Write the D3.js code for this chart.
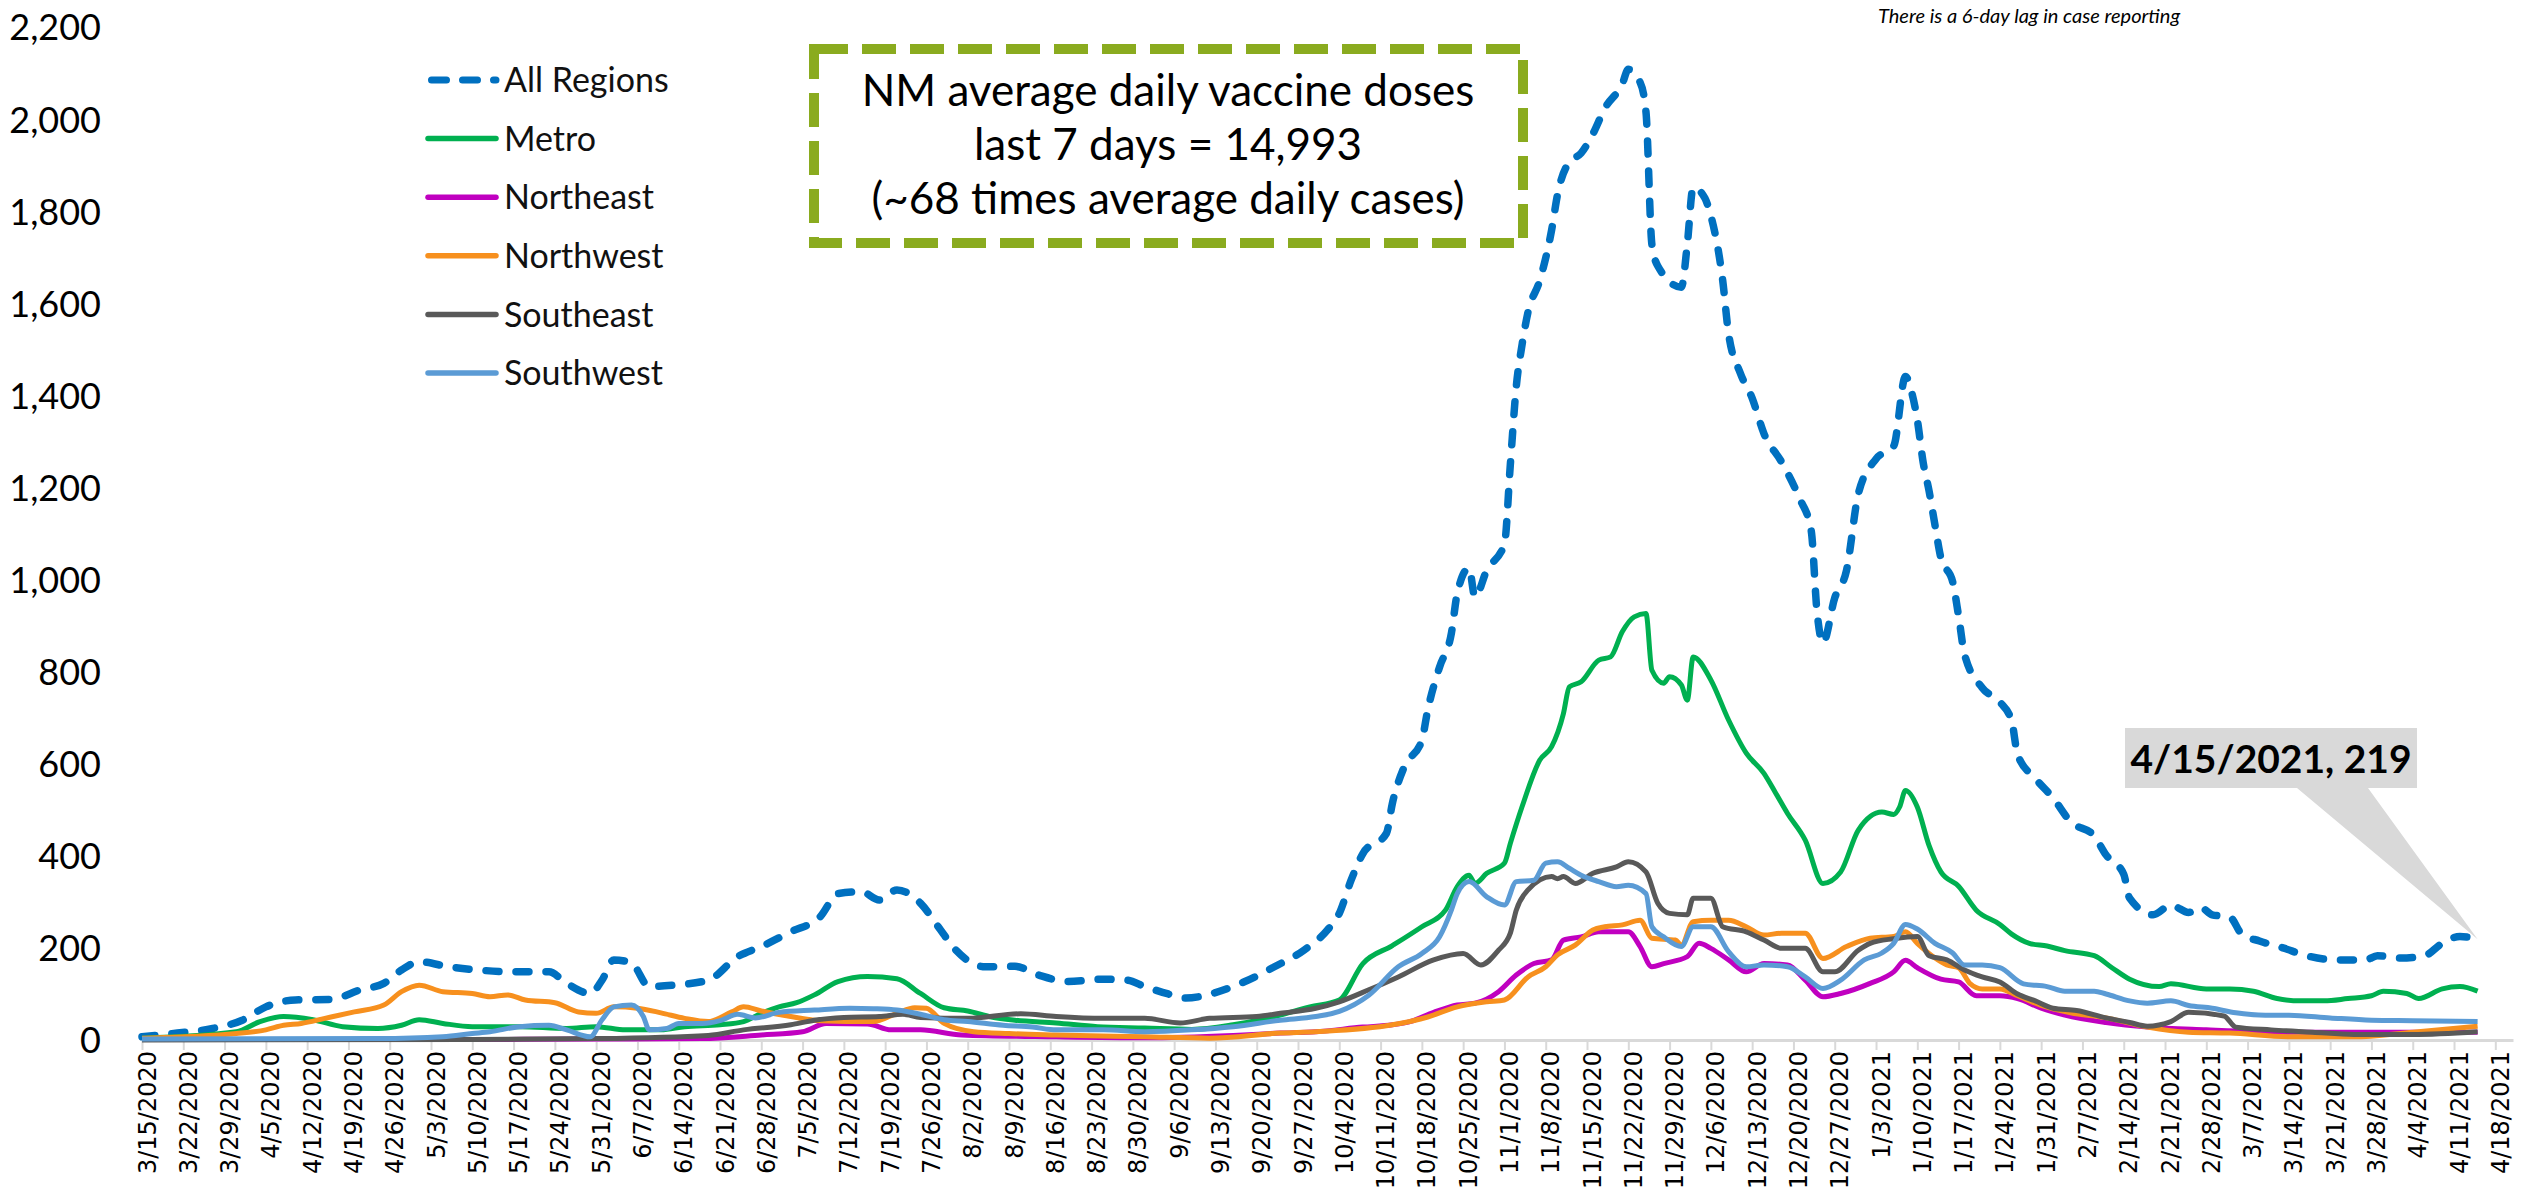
<!DOCTYPE html>
<html>
<head>
<meta charset="utf-8">
<script src="https://cdn.jsdelivr.net/npm/d3@7"></script>
<style>
  body { margin: 0; background: #fff; }
  svg { display: block; background: #fff; }
</style>
</head>
<body>
<div id="chart"></div>
<script>
// values (7-day average daily cases by region)
var seriesNames = ["All Regions", "Metro", "Northeast", "Northwest", "Southeast", "Southwest"];

var allRegions = [["3/15/2020",7],["3/21/2020",15],["3/27/2020",25],["4/1/2020",43],["4/5/2020",72],["4/10/2020",87],["4/16/2020",88],["4/21/2020",109],["4/25/2020",123],["4/28/2020",152],["5/1/2020",170],["5/6/2020",159],["5/11/2020",152],["5/17/2020",148],["5/23/2020",148],["5/26/2020",123],["5/30/2020",101],["6/1/2020",130],["6/3/2020",174],["6/6/2020",167],["6/9/2020",116],["6/13/2020",119],["6/19/2020",130],["6/24/2020",181],["6/28/2020",203],["7/3/2020",235],["7/8/2020",268],["7/11/2020",318],["7/15/2020",322],["7/18/2020",304],["7/21/2020",326],["7/25/2020",297],["7/28/2020",246],["7/31/2020",195],["8/5/2020",159],["8/10/2020",160],["8/14/2020",141],["8/19/2020",127],["8/25/2020",132],["8/29/2020",130],["9/1/2020",116],["9/5/2020",100],["9/8/2020",91],["9/13/2020",103],["9/18/2020",127],["9/23/2020",159],["9/28/2020",195],["10/2/2020",239],["10/4/2020",275],["10/6/2020",347],["10/8/2020",405],["10/12/2020",449],["10/13/2020",514],["10/15/2020",593],["10/18/2020",651],["10/19/2020",717],["10/21/2020",810],["10/23/2020",883],["10/24/2020",970],["10/26/2020",1025],["10/27/2020",962],["10/29/2020",1020],["11/1/2020",1077],["11/2/2020",1250],["11/3/2020",1418],["11/4/2020",1511],["11/5/2020",1581],["11/7/2020",1650],["11/9/2020",1759],["11/10/2020",1836],["11/12/2020",1907],["11/14/2020",1926],["11/16/2020",1968],["11/18/2020",2023],["11/21/2020",2077],["11/22/2020",2108],["11/24/2020",2080],["11/25/2020",2015],["11/26/2020",1728],["11/27/2020",1681],["12/1/2020",1635],["12/2/2020",1728],["12/3/2020",1852],["12/5/2020",1828],["12/6/2020",1790],["12/8/2020",1650],["12/9/2020",1534],["12/11/2020",1448],["12/13/2020",1394],["12/15/2020",1317],["12/18/2020",1255],["12/21/2020",1177],["12/23/2020",1107],["12/24/2020",930],["12/25/2020",862],["12/27/2020",960],["12/29/2020",1020],["12/31/2020",1186],["1/3/2021",1262],["1/6/2021",1290],["1/8/2021",1441],["1/9/2021",1409],["1/10/2021",1347],["1/11/2021",1254],["1/12/2021",1192],["1/13/2021",1118],["1/14/2021",1047],["1/16/2021",995],["1/17/2021",921],["1/18/2021",838],["1/21/2021",765],["1/24/2021",734],["1/26/2021",693],["1/27/2021",620],["1/30/2021",568],["2/2/2021",526],["2/5/2021",474],["2/9/2021",443],["2/11/2021",402],["2/14/2021",360],["2/15/2021",308],["2/19/2021",272],["2/22/2021",293],["2/25/2021",277],["2/27/2021",288],["3/1/2021",272],["3/4/2021",267],["3/6/2021",230],["3/9/2021",215],["3/13/2021",200],["3/17/2021",183],["3/22/2021",174],["3/27/2021",174],["3/29/2021",183],["4/2/2021",178],["4/6/2021",183],["4/9/2021",210],["4/12/2021",225],["4/15/2021",219]];

var metro = [["3/15/2020",4],["3/31/2020",18],["4/4/2020",40],["4/8/2020",51],["4/13/2020",44],["4/18/2020",29],["4/24/2020",25],["4/28/2020",32],["5/1/2020",44],["5/5/2020",36],["5/10/2020",29],["5/18/2020",29],["5/26/2020",25],["5/31/2020",29],["6/5/2020",22],["6/11/2020",22],["6/15/2020",29],["6/21/2020",33],["6/25/2020",40],["6/28/2020",58],["7/1/2020",72],["7/4/2020",81],["7/7/2020",98],["7/11/2020",127],["7/16/2020",138],["7/21/2020",133],["7/25/2020",101],["7/29/2020",70],["8/2/2020",63],["8/6/2020",50],["8/10/2020",43],["8/17/2020",37],["8/24/2020",29],["9/1/2020",26],["9/9/2020",23],["9/16/2020",33],["9/23/2020",51],["9/29/2020",72],["10/4/2020",87],["10/8/2020",166],["10/13/2020",205],["10/18/2020",246],["10/22/2020",282],["10/24/2020",333],["10/26/2020",358],["10/27/2020",340],["10/29/2020",362],["11/1/2020",384],["11/2/2020",427],["11/4/2020",507],["11/7/2020",608],["11/9/2020",637],["11/11/2020",709],["11/12/2020",767],["11/14/2020",778],["11/17/2020",825],["11/19/2020",832],["11/21/2020",887],["11/23/2020",919],["11/25/2020",926],["11/26/2020",803],["11/28/2020",775],["11/29/2020",789],["12/1/2020",771],["12/2/2020",738],["12/3/2020",832],["12/6/2020",782],["12/9/2020",695],["12/12/2020",623],["12/15/2020",579],["12/17/2020",536],["12/19/2020",492],["12/22/2020",434],["12/25/2020",340],["12/28/2020",365],["12/31/2020",456],["1/4/2021",495],["1/6/2021",490],["1/7/2021",506],["1/8/2021",542],["1/10/2021",506],["1/12/2021",422],["1/14/2021",365],["1/17/2021",334],["1/20/2021",282],["1/24/2021",251],["1/26/2021",230],["1/29/2021",210],["2/1/2021",204],["2/4/2021",194],["2/9/2021",183],["2/12/2021",157],["2/15/2021",132],["2/20/2021",116],["2/22/2021",122],["2/28/2021",111],["3/4/2021",111],["3/8/2021",106],["3/12/2021",90],["3/16/2021",85],["3/20/2021",85],["3/24/2021",90],["3/28/2021",96],["3/30/2021",106],["4/3/2021",101],["4/5/2021",90],["4/9/2021",111],["4/12/2021",116],["4/15/2021",106]];

var northeast = [["3/15/2020",1],["4/24/2020",1],["6/3/2020",2],["6/18/2020",3],["6/28/2020",11],["7/5/2020",18],["7/9/2020",36],["7/16/2020",35],["7/20/2020",22],["7/25/2020",22],["8/1/2020",11],["8/17/2020",7],["9/1/2020",5],["9/16/2020",10],["9/24/2020",15],["9/30/2020",18],["10/8/2020",28],["10/13/2020",33],["10/16/2020",40],["10/20/2020",60],["10/24/2020",76],["10/27/2020",80],["10/31/2020",105],["11/3/2020",141],["11/6/2020",166],["11/9/2020",174],["11/11/2020",217],["11/14/2020",224],["11/17/2020",235],["11/22/2020",235],["11/24/2020",203],["11/26/2020",159],["11/28/2020",166],["12/2/2020",181],["12/4/2020",210],["12/6/2020",199],["12/9/2020",174],["12/12/2020",148],["12/15/2020",166],["12/19/2020",163],["12/22/2020",130],["12/25/2020",94],["12/28/2020",101],["1/2/2021",123],["1/6/2021",148],["1/8/2021",173],["1/10/2021",157],["1/14/2021",132],["1/17/2021",126],["1/20/2021",96],["1/24/2021",96],["1/27/2021",90],["1/31/2021",69],["2/4/2021",54],["2/11/2021",38],["2/18/2021",28],["2/28/2021",22],["3/14/2021",17],["3/28/2021",17],["4/15/2021",17]];

var northwest = [["3/15/2020",4],["3/31/2020",14],["4/5/2020",22],["4/8/2020",32],["4/11/2020",36],["4/15/2020",47],["4/20/2020",61],["4/25/2020",76],["4/28/2020",105],["5/1/2020",119],["5/5/2020",105],["5/10/2020",101],["5/13/2020",94],["5/16/2020",98],["5/19/2020",87],["5/24/2020",81],["5/28/2020",61],["5/31/2020",58],["6/3/2020",72],["6/7/2020",69],["6/11/2020",59],["6/15/2020",47],["6/19/2020",40],["6/23/2020",61],["6/25/2020",72],["6/28/2020",63],["7/3/2020",51],["7/8/2020",42],["7/17/2020",40],["7/21/2020",58],["7/24/2020",70],["7/26/2020",69],["7/29/2020",36],["8/3/2020",18],["8/9/2020",14],["8/17/2020",11],["9/1/2020",7],["9/12/2020",4],["9/24/2020",15],["9/30/2020",18],["10/13/2020",33],["10/19/2020",50],["10/24/2020",72],["10/29/2020",83],["11/1/2020",87],["11/5/2020",137],["11/8/2020",159],["11/10/2020",185],["11/13/2020",206],["11/16/2020",239],["11/18/2020",246],["11/21/2020",250],["11/24/2020",260],["11/26/2020",221],["11/30/2020",217],["12/1/2020",206],["12/3/2020",257],["12/6/2020",260],["12/9/2020",260],["12/12/2020",246],["12/15/2020",228],["12/18/2020",232],["12/22/2020",232],["12/25/2020",177],["12/29/2020",203],["1/2/2021",221],["1/6/2021",225],["1/8/2021",235],["1/10/2021",210],["1/13/2021",178],["1/15/2021",163],["1/17/2021",157],["1/19/2021",122],["1/21/2021",111],["1/24/2021",111],["1/27/2021",96],["1/31/2021",75],["2/5/2021",59],["2/11/2021",48],["2/18/2021",28],["2/25/2021",17],["3/4/2021",15],["3/14/2021",7],["3/25/2021",7],["4/4/2021",17],["4/15/2021",30]];

var southeast = [["3/15/2020",0],["5/10/2020",1],["5/31/2020",3],["6/19/2020",10],["6/25/2020",22],["7/3/2020",33],["7/7/2020",43],["7/12/2020",49],["7/18/2020",51],["7/22/2020",56],["7/25/2020",49],["8/2/2020",47],["8/11/2020",57],["8/17/2020",51],["8/25/2020",47],["9/1/2020",47],["9/7/2020",37],["9/12/2020",47],["9/20/2020",51],["9/24/2020",58],["9/30/2020",69],["10/4/2020",83],["10/9/2020",109],["10/14/2020",137],["10/20/2020",174],["10/25/2020",188],["10/28/2020",163],["10/31/2020",195],["11/2/2020",232],["11/3/2020",282],["11/5/2020",326],["11/9/2020",355],["11/10/2020",350],["11/11/2020",355],["11/13/2020",340],["11/16/2020",362],["11/20/2020",376],["11/22/2020",387],["11/25/2020",365],["11/27/2020",297],["11/29/2020",275],["12/2/2020",272],["12/3/2020",308],["12/6/2020",308],["12/8/2020",246],["12/12/2020",235],["12/15/2020",217],["12/18/2020",199],["12/22/2020",199],["12/25/2020",148],["12/27/2020",148],["12/31/2020",195],["1/2/2021",210],["1/6/2021",220],["1/10/2021",225],["1/12/2021",183],["1/15/2021",174],["1/18/2021",152],["1/21/2021",137],["1/24/2021",126],["1/27/2021",100],["1/30/2021",85],["2/2/2021",69],["2/6/2021",64],["2/11/2021",48],["2/15/2021",38],["2/18/2021",30],["2/22/2021",40],["2/25/2021",60],["3/3/2021",52],["3/5/2021",28],["3/11/2021",22],["3/18/2021",17],["3/25/2021",12],["4/4/2021",12],["4/15/2021",18]];

var southwest = [["3/15/2020",2],["4/24/2020",3],["5/5/2020",7],["5/10/2020",14],["5/13/2020",18],["5/18/2020",29],["5/23/2020",32],["5/26/2020",22],["5/30/2020",7],["6/1/2020",44],["6/3/2020",72],["6/6/2020",76],["6/8/2020",51],["6/9/2020",22],["6/12/2020",25],["6/14/2020",36],["6/18/2020",36],["6/21/2020",42],["6/24/2020",56],["6/27/2020",48],["7/1/2020",60],["7/7/2020",65],["7/13/2020",69],["7/17/2020",68],["7/21/2020",65],["7/25/2020",56],["7/29/2020",44],["8/2/2020",40],["8/8/2020",32],["8/13/2020",28],["8/17/2020",22],["8/25/2020",22],["9/1/2020",18],["9/9/2020",22],["9/16/2020",29],["9/24/2020",43],["9/30/2020",51],["10/4/2020",62],["10/9/2020",97],["10/14/2020",159],["10/18/2020",188],["10/21/2020",224],["10/23/2020",282],["10/24/2020",318],["10/26/2020",344],["10/29/2020",311],["11/1/2020",293],["11/3/2020",344],["11/6/2020",347],["11/8/2020",384],["11/10/2020",387],["11/12/2020",373],["11/14/2020",358],["11/17/2020",344],["11/20/2020",333],["11/22/2020",336],["11/25/2020",318],["11/26/2020",246],["11/28/2020",224],["12/1/2020",203],["12/3/2020",246],["12/6/2020",246],["12/9/2020",192],["12/12/2020",159],["12/15/2020",163],["12/19/2020",159],["12/22/2020",137],["12/25/2020",112],["12/28/2020",130],["1/1/2021",174],["1/4/2021",189],["1/6/2021",210],["1/8/2021",251],["1/10/2021",241],["1/13/2021",210],["1/16/2021",189],["1/18/2021",163],["1/21/2021",163],["1/24/2021",157],["1/28/2021",122],["2/1/2021",116],["2/4/2021",106],["2/9/2021",106],["2/11/2021",100],["2/15/2021",85],["2/18/2021",80],["2/22/2021",85],["2/25/2021",75],["3/1/2021",69],["3/5/2021",59],["3/10/2021",54],["3/14/2021",54],["3/21/2021",48],["3/28/2021",43],["4/4/2021",42],["4/15/2021",40]];

var yTicks = [0, 200, 400, 600, 800, 1000, 1200, 1400, 1600, 1800, 2000, 2200];

var xTicks = ["3/15/2020","3/22/2020","3/29/2020","4/5/2020","4/12/2020","4/19/2020","4/26/2020","5/3/2020","5/10/2020","5/17/2020","5/24/2020","5/31/2020","6/7/2020","6/14/2020","6/21/2020","6/28/2020","7/5/2020","7/12/2020","7/19/2020","7/26/2020","8/2/2020","8/9/2020","8/16/2020","8/23/2020","8/30/2020","9/6/2020","9/13/2020","9/20/2020","9/27/2020","10/4/2020","10/11/2020","10/18/2020","10/25/2020","11/1/2020","11/8/2020","11/15/2020","11/22/2020","11/29/2020","12/6/2020","12/13/2020","12/20/2020","12/27/2020","1/3/2021","1/10/2021","1/17/2021","1/24/2021","1/31/2021","2/7/2021","2/14/2021","2/21/2021","2/28/2021","3/7/2021","3/14/2021","3/21/2021","3/28/2021","4/4/2021","4/11/2021","4/18/2021"];

var callout = ["4/15/2021", 219];

var boxLines = ["NM average daily vaccine doses", "last 7 days = 14,993", "(~68 times average daily cases)"];
var note = "There is a 6-day lag in case reporting";

// ---- drawing ----
var width = 2522,
    height = 1203;

var parse = d3.utcParse("%m/%d/%Y");

var x = d3.scaleUtc()
    .domain([parse("3/15/2020"), parse("4/21/2021")])
    .range([142, 2513]);

var y = d3.scaleLinear()
    .domain([0, 2200])
    .range([1040, 27]);

var color = d3.scaleOrdinal()
    .domain(seriesNames)
    .range(["#0070c0", "#00b050", "#c000c0", "#f7901e", "#595959", "#5b9bd5"]);

var series = [allRegions, metro, northeast, northwest, southeast, southwest].map(function(d, i) {
  return { name: seriesNames[i], values: d };
});

var svg = d3.select("#chart").append("svg")
    .attr("width", width)
    .attr("height", height);

// y axis labels only
svg.append("g")
    .attr("class", "y axis")
    .attr("transform", "translate(101,0)")
    .call(d3.axisLeft(y).tickValues(yTicks).tickFormat(d3.format(",")).tickSize(0).tickPadding(0))
    .call(function(g) { g.select(".domain").remove(); })
    .attr("font-family", "Lato, sans-serif")
    .attr("font-size", 36)
    .selectAll("text")
      .attr("fill", "#000")
      .attr("dy", "0.36em");

// x axis, weekly ticks with rotated labels
var xAxis = d3.axisBottom(x)
    .tickValues(xTicks.map(parse))
    .tickFormat(d3.utcFormat("%-m/%-d/%Y"))
    .tickSize(10)
    .tickSizeOuter(0);

var gx = svg.append("g")
    .attr("class", "x axis")
    .attr("transform", "translate(0,1040)")
    .call(xAxis)
    .attr("font-family", "'DejaVu Sans', sans-serif")
    .attr("font-size", 24);

gx.select(".domain").attr("stroke", "#d9d9d9").attr("stroke-width", 3);
gx.selectAll(".tick line").attr("stroke", "#d9d9d9").attr("stroke-width", 2);
gx.selectAll(".tick text")
    .attr("fill", "#000")
    .attr("transform", "rotate(-90)")
    .attr("text-anchor", "end")
    .attr("dy", null)
    .attr("x", -11)
    .attr("y", 13);

// lines
var line = d3.line()
    .x(function(d) { return x(parse(d[0])); })
    .y(function(d) { return y(d[1]); })
    .curve(d3.curveMonotoneX);

svg.append("g")
    .attr("class", "lines")
  .selectAll("path")
    .data(series)
  .enter().append("path")
    .attr("fill", "none")
    .attr("stroke", function(d) { return color(d.name); })
    .attr("stroke-width", function(d, i) { return i === 0 ? 7.5 : 5; })
    .attr("stroke-dasharray", function(d, i) { return i === 0 ? "13,17" : null; })
    .attr("stroke-linecap", function(d, i) { return i === 0 ? "round" : "butt"; })
    .attr("stroke-linejoin", "round")
    .attr("d", function(d) { return line(d.values); });

// legend
var legend = svg.append("g")
    .attr("class", "legend")
    .attr("font-family", "Lato, sans-serif")
    .attr("font-size", 34);

var row = legend.selectAll("g")
    .data(series)
  .enter().append("g")
    .attr("transform", function(d, i) { return "translate(428," + (80 + i * 58.6) + ")"; });

row.append("line")
    .attr("x1", function(d, i) { return i === 0 ? 3.5 : 0; })
    .attr("x2", 68)
    .attr("stroke", function(d) { return color(d.name); })
    .attr("stroke-width", function(d, i) { return i === 0 ? 7 : 5.5; })
    .attr("stroke-dasharray", function(d, i) { return i === 0 ? "15,16" : null; })
    .attr("stroke-linecap", "round");

row.append("text")
    .attr("x", 76)
    .attr("dy", "0.36em")
    .attr("fill", "#111")
    .text(function(d) { return d.name; });

// vaccine text box
var box = svg.append("g").attr("class", "vaccine-box");

box.append("rect")
    .attr("x", 814)
    .attr("y", 49)
    .attr("width", 709)
    .attr("height", 194)
    .attr("fill", "#fff")
    .attr("stroke", "#8aab1f")
    .attr("stroke-width", 10)
    .attr("stroke-dasharray", "34,14");

box.selectAll("text")
    .data(boxLines)
  .enter().append("text")
    .attr("x", 1168)
    .attr("y", function(d, i) { return 106 + i * 54; })
    .attr("text-anchor", "middle")
    .attr("font-family", "Lato, sans-serif")
    .attr("font-size", 44)
    .attr("fill", "#000")
    .text(function(d) { return d; });

// callout for last point
var tipX = x(parse(callout[0])),
    tipY = y(callout[1]);

var call = svg.append("g").attr("class", "callout");

call.append("path")
    .attr("fill", "#d9d9d9")
    .attr("d", "M2125,728H2417V788H2368L" + tipX + "," + tipY + "L2297,788H2125Z");

call.append("text")
    .attr("x", 2271)
    .attr("y", 773)
    .attr("text-anchor", "middle")
    .attr("font-family", "Lato, sans-serif")
    .attr("font-weight", "bold")
    .attr("font-size", 39)
    .attr("fill", "#000")
    .text(callout[0] + ", " + callout[1]);

// note, top right
svg.append("text")
    .attr("x", 1878)
    .attr("y", 23)
    .attr("font-family", "Lato, sans-serif")
    .attr("font-style", "italic")
    .attr("font-size", 20)
    .attr("fill", "#000")
    .text(note);
</script>
</body>
</html>
